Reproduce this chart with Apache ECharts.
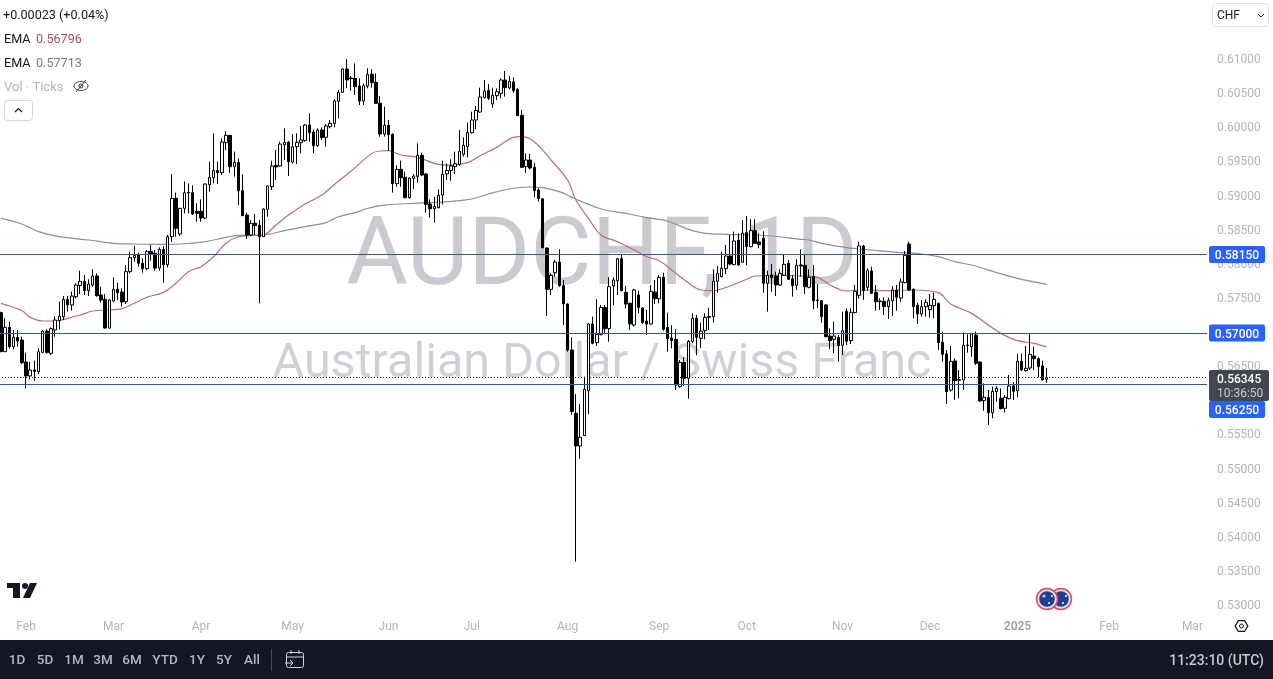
<!DOCTYPE html>
<html><head><meta charset="utf-8">
<style>html,body{margin:0;padding:0;background:#fff}#c{width:1273px;height:679px}</style>
<script src="https://cdn.jsdelivr.net/npm/echarts@6/dist/echarts.min.js"></script>
</head><body><div id="c"></div>
<script>
// rows are [open, close, low, high]
const candlesFebApr = [
[.57298,.56726,.56726,.57313],[.56726,.57083,.56726,.57215],[.57083,.56800,.56775,.57166],[.56800,.56937,.56761,.57044],[.56937,.56883,.56800,.57044],[.56897,.56565,.56546,.56946],[.56575,.56370,.56189,.56712],[.56370,.56458,.56321,.56580],[.56458,.56438,.56302,.56595],[.56433,.56726,.56399,.56775],
[.56717,.57029,.56702,.57044],[.57029,.56712,.56702,.57054],[.56702,.57063,.56678,.57083],[.57044,.57190,.56946,.57239],[.57181,.57249,.57054,.57459],[.57239,.57493,.57190,.57542],[.57493,.57415,.57313,.57542],[.57410,.57542,.57327,.57606],[.57532,.57703,.57508,.57728],[.57694,.57757,.57571,.57913],
[.57757,.57620,.57557,.57850],[.57620,.57718,.57542,.57786],[.57703,.57835,.57679,.57933],[.57835,.57547,.57532,.57874],[.57557,.57484,.57445,.57679],[.57493,.57073,.57063,.57571],[.57073,.57484,.57063,.57493],[.57469,.57640,.57459,.57816],[.57640,.57591,.57484,.57737],[.57601,.57454,.57386,.57654],
[.57459,.57899,.57425,.57996],[.57899,.58104,.57874,.58192],[.58104,.58138,.58045,.58275],[.58148,.58021,.57972,.58177],[.58021,.57943,.57884,.58094],[.57943,.58197,.57923,.58216],[.58197,.58158,.58060,.58289],[.58167,.57952,.57913,.58216],[.57952,.58226,.57913,.58255],[.58226,.58001,.57737,.58275],
[.58001,.58411,.57962,.58436],[.58411,.58973,.58333,.59330],[.58973,.58534,.58411,.59056],[.58451,.58827,.58421,.58827],[.58827,.59056,.58753,.59222],[.59061,.59051,.58753,.59193],[.59056,.58744,.58729,.59164],[.58783,.58753,.58631,.58900],[.58783,.58685,.58631,.58958],[.58685,.59183,.58670,.59193],
[.59173,.59281,.59071,.59510],[.59276,.59383,.59193,.59925],[.59383,.59349,.59183,.59510],[.59349,.59798,.59315,.59852],[.59789,.59896,.59681,.59960],[.59896,.59437,.59349,.59901],[.59437,.59501,.59291,.59657],[.59501,.59085,.58875,.59559],[.59085,.58719,.58714,.59325],[.58729,.58436,.58377,.58763],
[.58436,.58607,.58421,.58656],[.58607,.58573,.58436,.58744],[.58582,.58411,.57435,.58656]
];
const candlesAprJul = [
[.58411,.58817,.58411,.58827],[.58812,.59154,.58704,.59164],[.59144,.59447,.59095,.59525],[.59457,.59432,.59242,.59681],[.59447,.59769,.59437,.59803],[.59759,.59794,.59535,.59999],[.59798,.59510,.59300,.59813],[.59505,.59730,.59486,.59916],[.59730,.59794,.59476,.59925],[.59789,.59828,.59632,.60033],
[.59818,.60048,.59803,.60062],[.60048,.59935,.59803,.60219],[.59945,.59745,.59632,.59984],[.59745,.59974,.59730,.59999],[.59974,.59862,.59828,.60013],[.59867,.60033,.59730,.60062],[.60023,.60072,.59999,.60121],[.60072,.60399,.60013,.60424],[.60394,.60526,.60145,.60560],[.60526,.60868,.60521,.60878],
[.60868,.60707,.60585,.61010],[.60736,.60726,.60551,.60766],[.60731,.60609,.60487,.60951],[.60619,.60399,.60341,.60731],[.60399,.60624,.60341,.60658],[.60619,.60790,.60585,.60878],[.60790,.60668,.60595,.60863],[.60673,.60365,.60355,.60805],[.60365,.59916,.59877,.60472],[.59916,.60043,.59877,.60316],
[.60043,.59906,.59671,.60121],[.59911,.59188,.59056,.59925],[.59188,.59398,.59144,.59457],[.59398,.59276,.59144,.59525],[.59281,.58983,.58973,.59364],[.58983,.59271,.58968,.59281],[.59266,.59300,.59110,.59330],[.59295,.59603,.59203,.59779],[.59603,.59315,.59300,.59642],[.59330,.58885,.58763,.59339],
[.58890,.58822,.58690,.58958],[.58822,.58856,.58617,.58997],[.58836,.59017,.58827,.59105],[.59022,.59325,.58885,.59525],[.59330,.59383,.59242,.59486],[.59379,.59447,.59232,.59545],[.59437,.59481,.59330,.59657],[.59471,.59662,.59447,.59974],[.59618,.59750,.59584,.59867],[.59730,.59940,.59574,.60082],
[.59935,.60121,.59925,.60243],[.60121,.60262,.59984,.60326],[.60238,.60458,.60228,.60595],[.60448,.60546,.60438,.60707],[.60555,.60438,.60414,.60648],[.60355,.60482,.60302,.60595],[.60477,.60536,.60414,.60585],[.60512,.60707,.60438,.60731],[.60707,.60595,.60463,.60839],[.60590,.60687,.60570,.60766],
[.60678,.60551,.60521,.60746],[.60570,.60184,.60179,.60585]
];
const candlesJulOct = [
[.60189,.59427,.59427,.60267],[.59437,.59535,.59349,.59632],[.59535,.59417,.59398,.59623],[.59427,.59085,.58988,.59496],[.59095,.58968,.58924,.59120],[.58968,.58250,.58241,.58968],[.58245,.57640,.57249,.58255],[.57640,.57845,.57557,.57874],[.57884,.58040,.57825,.58070],[.58040,.57694,.57679,.58226],
[.57694,.57425,.57117,.57777],[.57425,.56751,.56726,.57435],[.56751,.55848,.55799,.56937],[.55823,.55345,.53650,.56107],[.55345,.55472,.55159,.55960],[.55496,.56175,.55491,.56360],[.56155,.57132,.55813,.57142],[.57132,.56849,.56834,.57240],[.56859,.56981,.56810,.57494],[.56976,.57376,.56966,.57411],
[.57376,.57064,.56995,.57411],[.57064,.57679,.56873,.57816],[.57689,.57777,.57411,.57816],[.57767,.58089,.57557,.58094],[.58089,.57621,.57611,.58158],[.57596,.57425,.57362,.57689],[.57435,.57132,.57044,.57445],[.57117,.57630,.57093,.57650],[.57557,.57376,.57288,.57621],[.57367,.57152,.57132,.57376],
[.57176,.57132,.56971,.57337],[.57132,.57611,.57122,.57704],[.57601,.57503,.57425,.57777],[.57503,.57816,.57435,.57850],[.57816,.57054,.57034,.57884],[.57083,.56917,.56727,.57298],[.56927,.56888,.56776,.57117],[.56907,.56238,.56165,.57054],[.56214,.56570,.56199,.56605],[.56570,.56336,.56224,.56644],
[.56336,.56878,.56038,.56898],[.56873,.57215,.56849,.57288],[.57215,.56937,.56673,.57264],[.56922,.57030,.56781,.57152],[.57034,.57230,.56907,.57288],[.57240,.57230,.57044,.57371],[.57240,.57757,.57152,.57933],[.57757,.57875,.57591,.57982],[.57826,.57948,.57816,.58192],[.57943,.58128,.57865,.58290],
[.58128,.58011,.57992,.58436],[.58002,.58348,.57992,.58485],[.58358,.57997,.57987,.58461],[.58036,.58461,.58031,.58656],[.58470,.58265,.57992,.58715]
];
const candlesOctJan = [
[.58265,.58500,.58255,.58666],[.58500,.58314,.58304,.58666],[.58334,.58295,.58241,.58461],[.58387,.57728,.57591,.58490],[.57728,.57845,.57313,.57914],[.57850,.57811,.57606,.58011],[.57835,.57704,.57542,.57899],[.57704,.57875,.57689,.57933],[.57845,.58006,.57835,.58143],[.58021,.57787,.57777,.58070],
[.57796,.57694,.57533,.57850],[.57699,.57992,.57630,.58080],[.57997,.57982,.57826,.58226],[.57992,.57679,.57572,.58143],[.57669,.57816,.57655,.57933],[.57826,.57474,.57347,.57997],[.57484,.57474,.57362,.57718],[.57474,.57240,.57152,.57484],[.57411,.56947,.56937,.57425],[.56956,.56888,.56761,.57069],
[.56907,.56956,.56702,.57166],[.56937,.56815,.56580,.56971],[.56820,.57034,.56678,.57313],[.57318,.56878,.56824,.57362],[.56888,.57303,.56839,.57362],[.57298,.57611,.57288,.57704],[.57552,.58275,.57503,.58339],[.58275,.57621,.57484,.58290],[.57669,.57914,.57621,.57948],[.57909,.57581,.57572,.57972],
[.57596,.57459,.57328,.57704],[.57469,.57459,.57337,.57508],[.57464,.57386,.57264,.57523],[.57386,.57474,.57205,.57518],[.57474,.57630,.57249,.57689],[.57630,.57523,.57328,.57704],[.57513,.57748,.57459,.57801],[.57738,.58138,.57728,.58202],[.58304,.57630,.57621,.58339],[.57640,.57386,.57215,.57655],
[.57406,.57279,.57132,.57445],[.57279,.57386,.57240,.57484],[.57386,.57450,.57240,.57494],[.57342,.57406,.57225,.57572],[.57401,.57494,.57215,.57591],[.57435,.56859,.56751,.57445],[.56864,.56688,.56580,.57020],[.56693,.56141,.55960,.56751],[.56165,.56585,.56141,.56810],[.56590,.56302,.56019,.56629],
[.56307,.56317,.56043,.56458],[.56312,.56820,.56165,.57010],[.56815,.56824,.56712,.56981],[.56800,.56986,.56654,.56995],[.56971,.56556,.56531,.57020],[.56575,.56004,.55994,.56585],[.56009,.56058,.55862,.56263],[.56058,.55833,.55652,.56165],[.55833,.56146,.55750,.56214],[.56141,.56190,.55994,.56224],
[.56043,.55892,.55882,.56190],[.55897,.56058,.55833,.56092],[.56038,.56224,.56028,.56385],[.56224,.56146,.56019,.56282],[.56155,.56585,.56058,.56693],[.56585,.56458,.56448,.56702],[.56448,.56483,.56434,.56810],[.56487,.56688,.56458,.56986],[.56663,.56624,.56458,.56800],[.56624,.56507,.56351,.56644],
[.56517,.56312,.56302,.56595],[.56322,.56345,.56272,.56483]
];
const ema50Index = [0,2,5,7,10,13,16,19,22,25,29,32,35,39,42,45,48,51,54,57,60,63,66,69,73,77,81,84,89,91,93,96,100,105,108,112,115,119,123,125,128,132,136,138,141,144,148,152,155,158,161,165,168,171,175,179,181,184,187,192,196,199,203,207,213,219,225,228,233,237,240,244,248,251];
const ema50Value = [.57435,.57396,.57330,.57229,.57176,.57176,.57215,.57264,.57322,.57337,.57357,.57435,.57523,.57596,.57728,.57899,.57972,.58118,.58314,.58411,.58426,.58436,.58582,.58729,.58890,.59022,.59227,.59370,.59632,.59667,.59671,.59608,.59574,.59471,.59461,.59496,.59598,.59720,.59867,.59877,.59803,.59535,.59242,.58949,.58680,.58436,.58338,.58216,.58118,.58060,.57923,.57737,.57630,.57621,.57689,.57787,.57835,.57840,.57845,.57835,.57816,.57704,.57616,.57630,.57621,.57630,.57591,.57425,.57288,.57117,.56995,.56888,.56849,.56796];
const ema200Index = [0,5,9,14,21,27,32,38,43,49,54,57,63,68,73,78,81,85,88,92,96,102,108,113,117,122,127,130,134,137,141,145,150,155,160,165,169,174,181,185,192,194,197,203,209,216,221,225,229,234,239,245,251];
const ema200Value = [.58680,.58597,.58485,.58411,.58363,.58314,.58304,.58299,.58304,.58338,.58402,.58431,.58436,.58499,.58558,.58617,.58704,.58763,.58827,.58875,.58890,.58910,.58929,.58963,.59037,.59110,.59139,.59129,.59071,.58988,.58885,.58802,.58753,.58690,.58641,.58519,.58461,.58446,.58436,.58421,.58373,.58363,.58314,.58251,.58216,.58177,.58158,.58119,.58045,.57982,.57884,.57787,.57713];
const timeTickIndex = [6,27,48,70,93,113,136,158,179,202,223,244,266,286];
const timeTickLabel = ['Feb','Mar','Apr','May','Jun','Jul','Aug','Sep','Oct','Nov','Dec','2025','Feb','Mar'];
const levelPrices = [0.5815,0.57,0.5625];
const lastPrice = 0.56345;
const rangeButtons = ['1D','5D','1M','3M','6M','YTD','1Y','5Y','All'];
const rangeButtonCentres = [17,45,74,103,132,165,197,224,252];

const candles = [...candlesFebApr,...candlesAprJul,...candlesJulOct,...candlesOctJan];
const slots = 290;
const categories = [];
for (let d = new Date(Date.UTC(2024,0,24)); categories.length < slots; d.setUTCDate(d.getUTCDate()+1)) {
  const day = d.getUTCDay(), iso = d.toISOString().slice(0,10);
  if (day !== 0 && day !== 6 && iso !== '2024-12-25') categories.push(iso);
}
const FONT = 'Roboto, sans-serif';
const chart = echarts.init(document.getElementById('c'), null, {renderer:'canvas', width:1273, height:679});
const gridBox = {left:-1, width:1208, top:-8.25, height:648.4, outerBoundsMode:'none'};
chart.setOption({
  animation:false,
  backgroundColor:'#fff',
  grid:gridBox,
  xAxis:{type:'category', data:categories, boundaryGap:true,
    axisLine:{show:false}, axisTick:{show:false}, splitLine:{show:false},
    axisLabel:{inside:true, margin:7, hideOverlap:false, color:'#b2b5be', fontFamily:FONT, fontSize:12,
      interval:(i)=>timeTickIndex.includes(i),
      formatter:(v,i)=>{const k=timeTickIndex.indexOf(i); if(k<0) return ''; return timeTickLabel[k]==='2025'?'{y|2025}':timeTickLabel[k];},
      rich:{y:{color:'#9598a1', fontFamily:FONT, fontSize:12, fontWeight:500}}}},
  yAxis:{type:'value', position:'right', min:0.525, max:0.62, interval:0.005, scale:true,
    axisLine:{show:false}, axisTick:{show:false}, splitLine:{show:false},
    axisLabel:{margin:10, align:'left', padding:[2,0,0,0], color:'#b2b5be', fontFamily:FONT, fontSize:12,
      formatter:(v)=> (v<0.529||v>0.611)?'':v.toFixed(5)}},
  series:[
    {name:'EMA 200', type:'line', z:1, showSymbol:false, symbol:'none', smooth:0.35, silent:true,
      lineStyle:{color:'#8f8f93', width:1.2}, data:ema200Index.map((x,i)=>[x,ema200Value[i]])},
    {name:'EMA 50', type:'line', z:1, showSymbol:false, symbol:'none', smooth:0.35, silent:true,
      lineStyle:{color:'#bd6b78', width:1.2}, data:ema50Index.map((x,i)=>[x,ema50Value[i]])},
    {name:'AUDCHF', type:'candlestick', z:2, barWidth:3, data:candles,
      itemStyle:{color:'#ffffff', color0:'#000000', borderColor:'#000000', borderColor0:'#000000', borderWidth:1},
      markLine:{silent:true, symbol:'none', animation:false, precision:5, label:{show:false}, z:3,
        data:[
          ...levelPrices.map(p=>({yAxis:p, lineStyle:{color:'#2f5b8f', width:1, type:'solid'}})),
          {yAxis:lastPrice, lineStyle:{color:'#222', width:1, type:[1,2]}}
        ]}}
  ]
});
const yOf = p => chart.convertToPixel({yAxisIndex:0}, p);
const txt = (text,x,y,fill,font,align='left',z=10) => ({type:'text', z, silent:true,
  style:{text,x,y,fill,font,align:align,verticalAlign:'middle'}});
const box = (x,y,w,h,fill,r=2,stroke) => ({type:'rect', z:9, silent:true, shape:{x,y,width:w,height:h,r},
  style:{fill,stroke:stroke||null,lineWidth:1}});
const pLine = (pts,stroke,lw=1,z=10) => ({type:'polyline', z, silent:true, shape:{points:pts}, style:{fill:null,stroke,lineWidth:lw}});
const circle = (cx,cy,r,fill,stroke,lw=1,z=11) => ({type:'circle', z, silent:true, shape:{cx,cy,r}, style:{fill,stroke:stroke||null,lineWidth:lw}});
const poly = (pts,fill,z=10) => ({type:'polygon', z, silent:true, shape:{points:pts}, style:{fill}});
const levelBox = (label,y) => [box(1209,y-8.5,56,17,'#2962ff',2), txt(label,1237,y+1.5,'#ffffff','500 12px '+FONT,'center',10)];
const el = [
  // watermarks
  txt('AUDCHF, 1D',602,260,'#c9cbd1','94.5px '+FONT,'center',0),
  txt('Australian Dollar / Swiss Franc',602,365,'#cfd1d6','48.5px '+FONT,'center',0),
  // legend
  txt('+0.00023 (+0.04%)',3,16,'#131722','12.6px '+FONT),
  txt('EMA',4,40,'#131722','12.6px '+FONT), txt('0.56796',36,40,'#b5495b','12.6px '+FONT),
  txt('EMA',4,64,'#131722','12.6px '+FONT), txt('0.57713',36,64,'#787b86','12.6px '+FONT),
  txt('Vol · Ticks',4,88,'#b2b5be','13px '+FONT),
  {type:'ellipse', z:10, silent:true, shape:{cx:81,cy:86,rx:7,ry:4.5}, style:{fill:null,stroke:'#3a3d45',lineWidth:1}},
  circle(81,86,2,null,'#3a3d45',1,10),
  pLine([[76,92],[86,80]],'#3a3d45',1),
  box(4.5,100.5,28,20,'#fff',3,'#d1d4dc'),
  pLine([[15,112],[18.5,108.5],[22,112]],'#131722',1.2),
  // currency select
  box(1212.5,3.5,56,23,'#fff',3,'#e0e3eb'),
  txt('CHF',1217,16,'#131722','12px '+FONT),
  pLine([[1258,14],[1261,17],[1264,14]],'#131722',1),
  // logo
  poly([[7,583],[20,583],[20,598],[13,598],[13,588],[7,588]],'#131722'),
  circle(25,586,3,'#131722',null,1,10),
  poly([[30,583],[37,583],[30,598],[23,598]],'#131722'),
  // flags
  circle(1061,599,10.5,'#f0d5da','#c9505f',1.5,11), circle(1061,599,7.8,'#1f3f8f',null,1,12),
  circle(1047,599,10.5,'#f0d5da','#c9505f',1.5,13), circle(1047,599,7.8,'#1f3f8f',null,1,14),
  circle(1052,596,1,'#fff',null,1,15), circle(1049,603,1,'#fff',null,1,15), circle(1044,596,1.5,'#c8d0e8',null,1,15),
  circle(1066,596,1,'#fff',null,1,13), circle(1063,603,1,'#fff',null,1,13),
  // settings
  poly([[1234.5,626],[1238,620],[1245,620],[1248.5,626],[1245,632],[1238,632]],'#131722'),
  poly([[1236,626],[1238.7,621.3],[1244.3,621.3],[1247,626],[1244.3,630.7],[1238.7,630.7]],'#ffffff'),
  circle(1241.5,626,2,null,'#131722',1,11),
  // bottom bar
  box(0,640,1273,39,'#131722',0),
  ...rangeButtons.map((t,i)=>txt(t,rangeButtonCentres[i],661,'#b2b5be','500 13.5px '+FONT,'center')),
  box(271,649,1,22,'#434651',0),
  {type:'rect', z:10, silent:true, shape:{x:286.5,y:652.5,width:17,height:15,r:2}, style:{fill:null,stroke:'#d1d4dc',lineWidth:1}},
  pLine([[286,657],[304,657]],'#d1d4dc',1),
  pLine([[291,650],[291,654]],'#d1d4dc',1), pLine([[299,650],[299,654]],'#d1d4dc',1),
  box(284,659,9,8,'#131722',0),
  pLine([[285,663],[293,663]],'#d1d4dc',1), pLine([[290,660],[293,663],[290,666]],'#d1d4dc',1),
  txt('11:23:10 (UTC)',1264,661,'#c8cad0','500 14px '+FONT,'right'),
  // price scale labels
  ...levelBox('0.58150',yOf(levelPrices[0])),
  ...levelBox('0.57000',yOf(levelPrices[1])),
  box(1209,370,60,31,'#434651',2),
  txt('0.56345',1217,380,'#ffffff','500 12px '+FONT),
  txt('10:36:50',1217,394,'#c8cad0','12px '+FONT),
  ...levelBox('0.56250',409.5)
];
chart.setOption({graphic:{elements:el}});
</script></body></html>
